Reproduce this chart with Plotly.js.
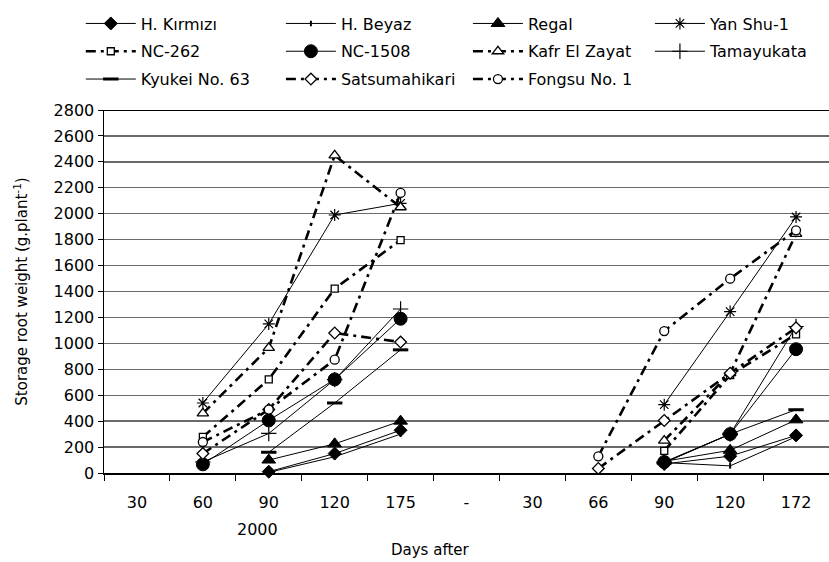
<!DOCTYPE html>
<html>
<head>
<meta charset="utf-8">
<script src="https://cdn.plot.ly/plotly-3.0.1.min.js"></script>
<style>html,body{margin:0;padding:0;background:#fff;}#chart{width:829px;height:562px;}</style>
</head>
<body>
<div id="chart"></div>
<script>
// Category labels (two seasons)
const dayLabels = ['30','60','90','120','175','-','30','66','90','120','172'];

// Storage root weight (g.plant-1) per category position
const hKirmizi   = [null, null,   10,  150,  330, null, null, null,   70,  130,  290];
const hBeyaz     = [null, null,    5,  125,  300, null, null, null,   80,   55,  280];
const regal      = [null, null,  100,  225,  400, null, null, null,   90,  175,  410];
const yanShu1    = [null,  540, 1150, 1990, 2080, null, null, null,  527, 1245, 1975];
const nc262      = [null,  278,  722, 1422, 1797, null, null, null,  170,  755, 1070];
const nc1508     = [null,   67,  406,  722, 1190, null, null, null,   85,  300,  955];
const kafrElZayat= [null,  460,  965, 2450, 2050, null, null, null,  250,  770, 1845];
const tamayukata = [null,   85,  305,  720, 1265, null, null, null,   80,  300, 1130];
const kyukei63   = [null, null,  160,  540,  950, null, null, null,   80,  300,  488];
const satsuma    = [null,  150,  490, 1080, 1010, null, null,   35,  405,  770, 1120];
const fongsu1    = [null,  239,  489,  874, 2160, null, null,  129, 1095, 1499, 1872];

const seriesNames = ['H. Kırmızı','H. Beyaz','Regal','Yan Shu-1','NC-262','NC-1508',
  'Kafr El Zayat','Tamayukata','Kyukei No. 63','Satsumahikari','Fongsu No. 1'];
const yearLabel = '2000';

const xIdx = dayLabels.map((_, i) => i);
const DASH = '10px,5px,3px,5px';

function tr(name, y, legend, lineStyle, marker) {
  return {
    type: 'scatter', mode: 'lines+markers', name: name, x: xIdx, y: y,
    connectgaps: false, legend: legend, legendgroup: name, cliponaxis: false,
    line: Object.assign({color: 'black', width: 1}, lineStyle),
    marker: Object.assign({color: 'black', line: {color: 'black', width: 1}}, marker)
  };
}
const thin = {width: 1};
const thick = {width: 2.6, dash: DASH};
const openM = (sym, size) => ({symbol: sym, size: size, color: 'white', line: {color: 'black', width: 1.3}});

// legend = column of the legend block
const data = [
  tr(seriesNames[0], hKirmizi, 'legend', thin, {symbol: 'diamond', size: 10}),
  tr(seriesNames[1], hBeyaz, 'legend2', thin, {symbol: 'line-ns-open', size: 4, line: {color: 'black', width: 2}}),
  tr(seriesNames[2], regal, 'legend3', thin, {symbol: 'triangle-up', size: 12}),
  tr(seriesNames[3], yanShu1, 'legend4', thin, {symbol: 'asterisk-open', size: 10, line: {color: 'black', width: 1.2}}),
  tr(seriesNames[4], nc262, 'legend', thick, openM('square', 7)),
  tr(seriesNames[5], nc1508, 'legend2', thin, {symbol: 'circle', size: 13}),
  tr(seriesNames[6], kafrElZayat, 'legend3', thick, openM('triangle-up', 10)),
  tr(seriesNames[7], tamayukata, 'legend4', thin, {symbol: 'cross-thin-open', size: 11, line: {color: 'black', width: 1.2}}),
  tr(seriesNames[8], kyukei63, 'legend', thin, {symbol: 'line-ew-open', size: 11, line: {color: 'black', width: 3}}),
  tr(seriesNames[9], satsuma, 'legend2', thick, openM('diamond', 9)),
  tr(seriesNames[10], fongsu1, 'legend3', thick, openM('circle', 9))
];

const FONT = 'DejaVu Sans, Verdana, sans-serif';
const legBase = {
  orientation: 'v', xanchor: 'left', yanchor: 'top', y: 1.285,
  font: {family: FONT, size: 16, color: 'black'}, bgcolor: 'rgba(0,0,0,0)',
  itemwidth: 50, traceorder: 'grouped', tracegroupgap: 4
};

const boundaries = [];
for (let i = 0; i <= dayLabels.length; i++) boundaries.push(i - 0.5);

const layout = {
  width: 829, height: 562,
  margin: {l: 104, r: 0, t: 110, b: 89},
  paper_bgcolor: 'white', plot_bgcolor: 'white',
  font: {family: FONT, size: 16, color: 'black'},
  showlegend: true,
  legend: Object.assign({}, legBase, {x: -0.032}),
  legend2: Object.assign({}, legBase, {x: 0.244}),
  legend3: Object.assign({}, legBase, {x: 0.502}),
  legend4: Object.assign({}, legBase, {x: 0.753}),
  xaxis: {
    range: [-0.5, dayLabels.length - 0.5],
    tickmode: 'array', tickvals: xIdx, ticktext: dayLabels,
    ticks: '', showgrid: false, zeroline: false,
    showline: true, linecolor: 'black', linewidth: 1.5,
    ticklabelstandoff: 14,
    tickfont: {family: FONT, size: 16, color: 'black'},
    minor: {tickmode: 'array', tickvals: boundaries, ticks: 'outside', ticklen: 6, tickcolor: 'black', tickwidth: 1, showgrid: false}
  },
  yaxis: {
    range: [0, 2800], dtick: 200, tick0: 0,
    ticks: 'outside', ticklen: 5, tickcolor: 'black', tickwidth: 1,
    showgrid: true, gridcolor: '#6a6a6a', gridwidth: 1.3,
    zeroline: false, showline: true, linecolor: 'black', linewidth: 1.5,
    tickfont: {family: FONT, size: 16, color: 'black'},
    title: {text: 'Storage root weight (g.plant<sup>-1</sup>)', font: {family: FONT, size: 15, color: 'black'}, standoff: 22}
  },
  shapes: [
    {type: 'line', xref: 'paper', yref: 'y', x0: 0, x1: 1, y0: 2800, y1: 2800, line: {color: 'black', width: 2}}
  ],
  annotations: [
    {text: yearLabel, xref: 'paper', yref: 'paper', x: 0.212, y: -0.157, showarrow: false,
     xanchor: 'center', yanchor: 'middle', font: {family: FONT, size: 16, color: 'black'}},
    {text: 'Days after', xref: 'paper', yref: 'paper', x: 0.45, y: -0.212, showarrow: false,
     xanchor: 'center', yanchor: 'middle', font: {family: FONT, size: 15, color: 'black'}}
  ]
};

Plotly.newPlot('chart', data, layout, {displayModeBar: false, staticPlot: true});
</script>
</body>
</html>
